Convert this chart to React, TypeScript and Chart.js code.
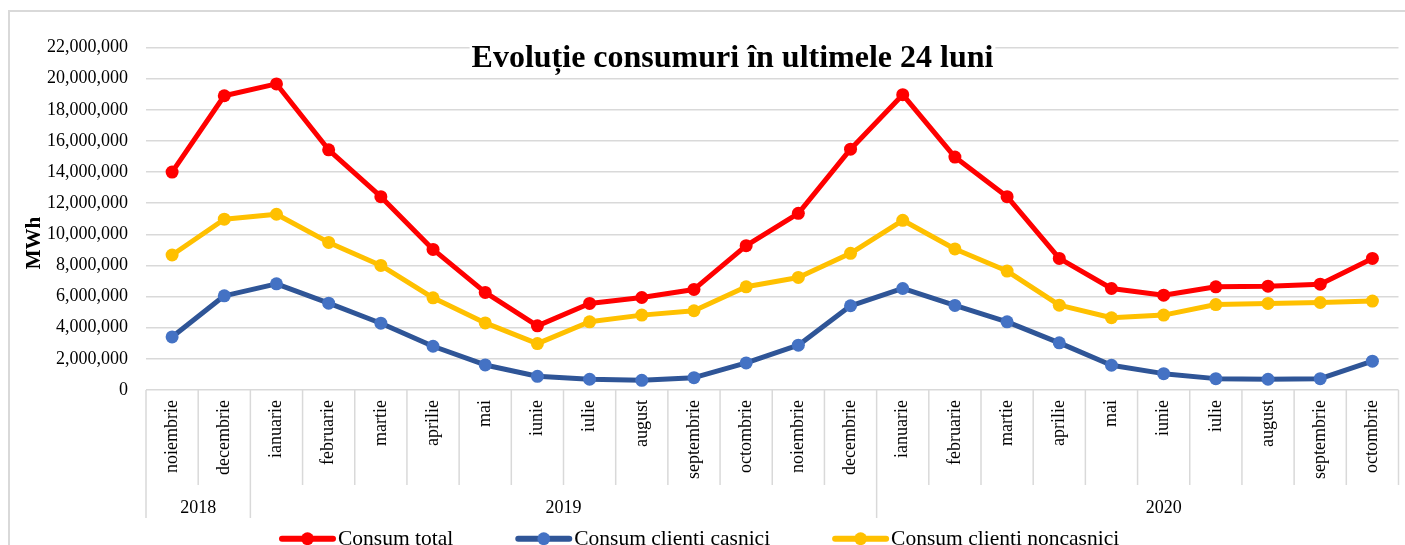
import React, { useEffect, useRef } from 'react';
import { Chart, registerables } from 'chart.js';

Chart.register(...registerables);

const months = [
  'noiembrie', 'decembrie', 'ianuarie', 'februarie', 'martie', 'aprilie', 'mai', 'iunie',
  'iulie', 'august', 'septembrie', 'octombrie', 'noiembrie', 'decembrie', 'ianuarie',
  'februarie', 'martie', 'aprilie', 'mai', 'iunie', 'iulie', 'august', 'septembrie', 'octombrie',
];
const yearLabels = ['2018', '2019', '2020'];
const yearSpans = [2, 12, 10];

const consumTotal = [
  14000000, 18900000, 19660000, 15430000, 12420000, 9030000, 6270000, 4120000,
  5560000, 5940000, 6460000, 9270000, 11350000, 15470000, 18970000, 14960000,
  12420000, 8450000, 6520000, 6090000, 6630000, 6670000, 6800000, 8450000,
];
const consumCasnici = [
  3410000, 6050000, 6820000, 5580000, 4290000, 2810000, 1610000, 880000,
  690000, 620000, 790000, 1740000, 2880000, 5410000, 6520000, 5430000,
  4380000, 3030000, 1590000, 1050000, 730000, 690000, 730000, 1850000,
];
const consumNoncasnici = [
  8670000, 10970000, 11290000, 9480000, 8000000, 5920000, 4310000, 2980000,
  4380000, 4810000, 5090000, 6630000, 7230000, 8780000, 10900000, 9060000,
  7640000, 5450000, 4640000, 4810000, 5490000, 5560000, 5620000, 5710000,
];

const titleText = 'Evoluție consumuri în ultimele 24 luni';
const yTitle = 'MWh';
const FONT = '"Liberation Serif", "Times New Roman", serif';
const GRID = '#d9d9d9';

function drawSymbol(g: CanvasRenderingContext2D, x: number, y: number, line: string, dot: string) {
  g.save();
  g.strokeStyle = line;
  g.lineWidth = 6;
  g.lineCap = 'round';
  g.beginPath();
  g.moveTo(x + 3, y);
  g.lineTo(x + 54, y);
  g.stroke();
  g.fillStyle = dot;
  g.beginPath();
  g.arc(x + 28.5, y, 6.4, 0, Math.PI * 2);
  g.fill();
  g.restore();
}

const decorPlugin = {
  id: 'decor',
  beforeDatasetsDraw(chart: any) {
    const { ctx, chartArea, scales } = chart;
    const xs = scales.x;
    const n = months.length;
    const colW = (chartArea.right - chartArea.left) / n;
    const bnd = (i: number) =>
      i === 0 ? chartArea.left : i === n ? chartArea.right : (xs.getPixelForValue(i - 1) + xs.getPixelForValue(i)) / 2;
    const edges = new Set<number>([0]);
    let acc = 0;
    yearSpans.forEach((s) => { acc += s; if (acc < n) edges.add(acc); });

    ctx.save();
    ctx.strokeStyle = GRID;
    ctx.lineWidth = 1.5;
    for (let i = 0; i <= n; i++) {
      const bx = bnd(i);
      ctx.beginPath();
      ctx.moveTo(bx, chartArea.bottom);
      ctx.lineTo(bx, chartArea.bottom + (edges.has(i) ? 128 : 95));
      ctx.stroke();
    }

    ctx.fillStyle = '#000';
    ctx.font = `18px ${FONT}`;
    ctx.textAlign = 'center';
    ctx.textBaseline = 'alphabetic';
    let start = 0;
    yearLabels.forEach((lab, k) => {
      const end = start + yearSpans[k];
      const right = end === n ? chartArea.right + colW : bnd(end);
      const cx = (bnd(start) + right) / 2;
      ctx.fillText(lab, cx, chartArea.bottom + 123);
      start = end;
    });

    // title
    ctx.font = `bold 32px ${FONT}`;
    const tw = ctx.measureText(titleText).width;
    const tx = 732.5;
    ctx.fillStyle = '#fff';
    ctx.fillRect(tx - tw / 2 - 2, 40, tw + 4, 34);
    ctx.fillStyle = '#000';
    ctx.fillText(titleText, tx, 66.7);

    // y axis title
    ctx.save();
    ctx.translate(35, 243);
    ctx.rotate(-Math.PI / 2);
    ctx.font = `bold 21px ${FONT}`;
    ctx.textBaseline = 'middle';
    ctx.fillText(yTitle, 0, 0);
    ctx.restore();

    // legend
    ctx.font = `21.5px ${FONT}`;
    ctx.textAlign = 'left';
    ctx.textBaseline = 'alphabetic';
    let lx = 279;
    chart.data.datasets.forEach((ds: any) => {
      drawSymbol(ctx, lx, 538.7, ds.borderColor, ds.pointBackgroundColor);
      ctx.fillStyle = '#000';
      ctx.fillText(ds.label, lx + 59, 545);
      lx += 59 + ctx.measureText(ds.label).width + 62;
    });
    ctx.restore();
  },
};

export default function App() {
  const ref = useRef<HTMLCanvasElement>(null);

  useEffect(() => {
    Chart.defaults.font.family = FONT;
    const common = {
      borderWidth: 5,
      pointRadius: 6.5,
      pointBorderWidth: 0,
      borderJoinStyle: 'round',
      borderCapStyle: 'round',
    };
    const chart = new Chart(ref.current!, {
      type: 'line',
      data: {
        labels: months,
        datasets: [
          {
            label: 'Consum total',
            data: consumTotal,
            borderColor: '#FF0000',
            backgroundColor: '#FF0000',
            pointBackgroundColor: '#FF0000',
            ...common,
          } as any,
          {
            label: 'Consum clienti casnici',
            data: consumCasnici,
            borderColor: '#2F5597',
            backgroundColor: '#4472C4',
            pointBackgroundColor: '#4472C4',
            ...common,
          } as any,
          {
            label: 'Consum clienti noncasnici',
            data: consumNoncasnici,
            borderColor: '#FFC000',
            backgroundColor: '#FFC000',
            pointBackgroundColor: '#FFC000',
            ...common,
          } as any,
        ],
      },
      options: {
        responsive: false,
        animation: false,
        events: [],
        layout: { padding: { top: 47.5, right: 3, left: 0, bottom: 27 } },
        scales: {
          x: {
            type: 'category',
            offset: true,
            grid: { display: false, drawTicks: false, offset: true },
            border: { display: false },
            ticks: {
              autoSkip: false,
              minRotation: 90,
              maxRotation: 90,
              padding: 10,
              color: '#000',
              font: { size: 18 },
            },
            afterFit(s: any) {
              s.height = 128;
              s.paddingLeft = 0;
              s.paddingRight = 0;
            },
          },
          y: {
            min: 0,
            max: 22000000,
            grid: { color: GRID, lineWidth: 1.5, drawTicks: false },
            border: { display: false },
            ticks: {
              stepSize: 2000000,
              padding: 18,
              color: '#000',
              font: { size: 18 },
              callback: (v: any) => Number(v).toLocaleString('en-US'),
            },
            afterFit(s: any) {
              s.width = 146;
            },
          },
        },
        plugins: {
          legend: { display: false },
          title: { display: false },
          tooltip: { enabled: false },
        },
      } as any,
      plugins: [decorPlugin],
    });
    return () => chart.destroy();
  }, []);

  return (
    <div style={{ position: 'fixed', left: 0, top: 0, width: '100vw', height: '100vh', overflow: 'hidden', background: '#fff' }}>
      <div
        style={{
          position: 'absolute', left: 8, top: 10, width: 1500, height: 700,
          borderLeft: `2px solid ${GRID}`, borderTop: `2px solid ${GRID}`,
        }}
      />
      <canvas
        ref={ref}
        width={1405}
        height={545}
        style={{ position: 'absolute', left: 0, top: 0, width: 1405, height: 545 }}
      />
    </div>
  );
}
